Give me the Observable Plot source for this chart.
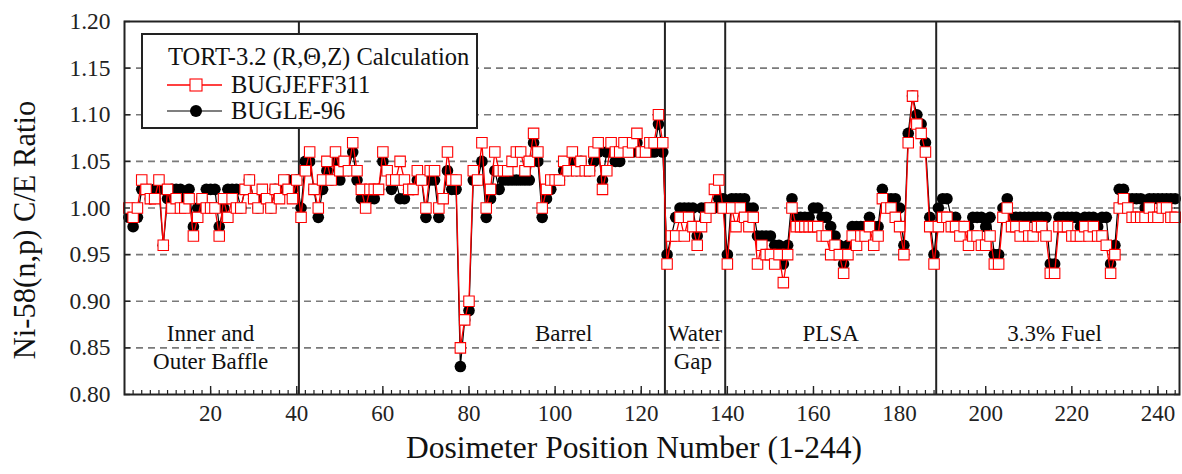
<!DOCTYPE html>
<html><head><meta charset="utf-8">
<script src="https://cdn.jsdelivr.net/npm/d3@7"></script>
<script src="https://cdn.jsdelivr.net/npm/@observablehq/plot@0.6"></script>
<style>
body{margin:0;background:#fff;}
#wrap{position:relative;width:1182px;height:474px;font-family:"Liberation Serif","Times New Roman",serif;}
#legend{position:absolute;left:0;top:0;pointer-events:none;}
</style></head><body><div id="wrap"></div>
<script>
// Dosimeter positions 1..244
const positions = d3.range(1, 245);

// TORT-3.2 with BUGJEFF311 (red open squares)
const bugjeff311 = [
  // Inner and Outer Baffle (1-40)
  1.00,0.99,1.00,1.03,1.02,1.01,1.01,1.03,0.96,1.02, 1.00,1.01,1.00,1.00,1.01,0.97,0.99,1.01,1.00,1.00,
  1.00,0.97,1.01,0.99,1.01,1.00,1.00,1.02,1.03,1.01, 1.00,1.02,1.01,1.00,1.02,1.01,1.03,1.02,1.01,1.03,
  // Barrel (41-125)
  0.99,1.04,1.06,1.02,1.00,1.03,1.05,1.03,1.06,1.04, 1.05,1.04,1.07,1.04,1.02,1.00,1.02,1.02,1.02,1.06,
  1.04,1.03,1.03,1.05,1.03,1.02,1.02,1.04,1.03,1.00, 1.04,1.04,1.00,1.01,1.06,1.03,1.03,0.85,0.88,0.90,
  1.04,1.03,1.07,1.00,1.02,1.06,1.04,1.04,1.04,1.05, 1.06,1.06,1.04,1.05,1.08,1.06,1.00,1.02,1.03,1.03,
  1.03,1.05,1.04,1.06,1.04,1.05,1.04,1.04,1.06,1.07, 1.02,1.04,1.07,1.06,1.06,1.07,1.06,1.07,1.08,1.06,
  1.06,1.07,1.07,1.10,1.07,
  // Water Gap (126-139)
  0.94,0.97,0.97,0.99,0.97,0.99,0.98,0.96,0.98,0.99,1.00,1.02,1.03,1.00,
  // PLSA (140-188)
  0.94,1.00,0.98,1.00,0.99,0.98,0.99,0.94,0.96,0.95, 0.95,0.94,0.95,0.92,0.95,1.00,0.98,0.98,0.98,0.98,
  0.98,0.98,0.97,0.97,0.95,0.96,0.95,0.93,0.95,0.97, 0.96,0.97,0.97,0.98,0.96,0.97,1.01,1.00,1.00,0.99,
  0.98,0.95,1.07,1.12,1.09,1.08,1.06,0.98,0.94,
  // 3.3% Fuel (189-244)
  0.98,0.99,0.99,0.98,0.98,0.97,0.98,0.96,0.97,0.97, 0.96,0.96,0.97,0.94,0.94,0.99,1.00,0.98,0.98,0.97,
  0.98,0.97,0.97,0.98,0.98,0.97,0.93,0.93,0.98,0.98, 0.98,0.97,0.97,0.97,0.98,0.97,0.98,0.97,0.97,0.96,
  0.93,0.95,1.00,1.01,1.00,0.99,0.99,0.99,0.99,1.00, 0.99,0.99,1.00,1.00,0.99,0.99
];

// TORT-3.2 with BUGLE-96 (black filled circles)
const bugle96 = [
  // Inner and Outer Baffle (1-40)
  0.99,0.98,0.99,1.02,1.02,1.01,1.02,1.02,0.96,1.01, 1.02,1.02,1.02,1.01,1.02,0.98,1.00,1.01,1.02,1.02,
  1.02,0.98,1.00,1.02,1.02,1.02,1.00,1.02,1.03,1.01, 1.00,1.01,1.01,1.00,1.02,1.02,1.02,1.03,1.02,1.03,
  // Barrel (41-125)
  1.00,1.05,1.05,1.02,0.99,1.02,1.04,1.03,1.05,1.03, 1.04,1.04,1.06,1.03,1.01,1.01,1.01,1.01,1.02,1.05,
  1.04,1.02,1.03,1.01,1.01,1.02,1.02,1.03,1.03,0.99, 1.03,1.03,0.99,1.01,1.04,1.02,1.02,0.83,0.88,0.89,
  1.03,1.03,1.05,0.99,1.01,1.04,1.02,1.03,1.03,1.03, 1.03,1.03,1.03,1.03,1.07,1.05,0.99,1.01,1.02,1.03,
  1.03,1.04,1.04,1.05,1.04,1.05,1.04,1.04,1.05,1.06, 1.03,1.06,1.06,1.05,1.05,1.06,1.06,1.06,1.07,1.06,
  1.06,1.06,1.06,1.09,1.06,
  // Water Gap (126-139)
  0.95,0.97,0.99,1.00,1.00,1.00,1.00,0.97,1.00,1.00,1.00,1.00,1.01,1.01,
  // PLSA (140-188)
  0.95,1.01,1.01,1.01,1.01,1.00,1.00,0.97,0.97,0.97, 0.97,0.96,0.96,0.94,0.96,1.01,0.99,0.99,0.99,0.99,
  1.00,1.00,0.99,0.99,0.98,0.97,0.96,0.94,0.96,0.98, 0.98,0.98,0.98,0.99,0.98,0.98,1.02,1.01,1.01,1.01,
  1.00,0.96,1.08,1.12,1.10,1.09,1.07,0.99,0.95,
  // 3.3% Fuel (189-244)
  1.00,1.01,1.01,0.99,0.99,0.98,0.98,0.98,0.99,0.99, 0.99,0.98,0.99,0.95,0.95,1.00,1.01,0.99,0.99,0.99,
  0.99,0.99,0.99,0.99,0.99,0.99,0.94,0.94,0.99,0.99, 0.99,0.99,0.99,0.98,0.99,0.99,0.99,0.98,0.99,0.99,
  0.94,0.96,1.02,1.02,1.01,1.01,1.01,1.01,1.00,1.01, 1.01,1.01,1.01,1.01,1.01,1.01
];

// Axis ticks
const xMajorTicks = [20, 40, 60, 80, 100, 120, 140, 160, 180, 200, 220, 240];
const xMinorTicks = d3.range(2, 245, 2);
const yTicks = [0.80, 0.85, 0.90, 0.95, 1.00, 1.05, 1.10, 1.15, 1.20];
const yGrid = [0.85, 0.90, 0.95, 1.00, 1.05, 1.10, 1.15];

// Region boundaries and labels
const regionBounds = [40.5, 125.5, 139.5, 188.5];
const regionText = ["Inner and", "Outer Baffle", "Barrel", "Water", "Gap", "PLSA", "3.3% Fuel"];
const regionTextX = [20, 20, 102, 132.5, 132, 164, 216];
const regionTextY = [0.865, 0.835, 0.865, 0.865, 0.835, 0.865, 0.865];

const seriesNames = ["BUGJEFF311", "BUGLE-96"];
const legendTitle = "TORT-3.2 (R,\u0398,Z) Calculation";

const jeff = positions.map((p, i) => ({p, v: bugjeff311[i]}));
const bugle = positions.map((p, i) => ({p, v: bugle96[i]}));
const labels = regionText.map((t, i) => ({t, x: regionTextX[i], y: regionTextY[i]}));

const font = '"Liberation Serif","Times New Roman",serif';

const chart = Plot.plot({
  width: 1182,
  height: 474,
  marginLeft: 124,
  marginRight: 3,
  marginTop: 21,
  marginBottom: 80,
  style: {fontFamily: font, fontSize: "23px", color: "#222", background: "#fff"},
  x: {domain: [0, 245]},
  y: {domain: [0.8, 1.2]},
  marks: [
    Plot.ruleY(yGrid, {stroke: "#7a7a7a", strokeWidth: 1.6, strokeDasharray: "7,5"}),
    Plot.ruleX(regionBounds, {stroke: "#222", strokeWidth: 2}),
    Plot.text(labels, {x: "x", y: "y", text: "t", fontSize: 23, fill: "#111"}),
    Plot.line(bugle, {x: "p", y: "v", stroke: "#000", strokeWidth: 1.2}),
    Plot.dot(bugle, {x: "p", y: "v", r: 5.8, fill: "#000", stroke: "none"}),
    Plot.line(jeff, {x: "p", y: "v", stroke: "#ff0000", strokeWidth: 1.3}),
    Plot.dot(jeff, {x: "p", y: "v", symbol: "square", r: 5.9, fill: "#fff", stroke: "#ff0000", strokeWidth: 1.1}),
    // axes: labels
    Plot.axisX({ticks: xMajorTicks, tickSize: 0, tickPadding: 10, label: null, fontSize: 23}),
    Plot.axisY({ticks: yTicks, tickSize: 0, tickPadding: 14, tickFormat: d3.format(".2f"), label: null, fontSize: 23.5}),
    // inward ticks
    Plot.axisX({ticks: xMinorTicks, tickSize: 4, dy: -4, text: null, label: null, strokeWidth: 1.2}),
    Plot.axisX({ticks: xMajorTicks, tickSize: 8, dy: -8, text: null, label: null, strokeWidth: 1.4}),
    Plot.axisY({anchor: "left", ticks: yTicks, tickSize: 6, dx: 6, text: null, label: null, strokeWidth: 1.4}),
    Plot.axisY({anchor: "right", ticks: yTicks, tickSize: 6, dx: -6, text: null, label: null, strokeWidth: 1.4}),
    Plot.frame({stroke: "#222", strokeWidth: 2}),
    // axis titles
    Plot.text(["Dosimeter Position Number (1-244)"], {frameAnchor: "bottom", textAnchor: "middle", dx: -18, dy: 63, fontSize: 31.5, fill: "#111"}),
    Plot.text(["Ni-58(n,p) C/E Ratio"], {frameAnchor: "left", textAnchor: "middle", rotate: -90, dx: -99, dy: 22, fontSize: 30.5, fill: "#111"})
  ]
});

const wrap = document.getElementById("wrap");
wrap.appendChild(chart);

// Legend overlay (inside plot area, top-left)
const lg = d3.select(wrap).append("svg").attr("id", "legend").attr("width", 1182).attr("height", 474)
  .style("font-family", font);
lg.append("rect").attr("x", 142).attr("y", 34).attr("width", 335).attr("height", 94)
  .attr("fill", "#fff").attr("stroke", "#222").attr("stroke-width", 2);
lg.append("text").attr("x", 168).attr("y", 65).attr("font-size", 24.5).attr("fill", "#111").text(legendTitle);
// BUGJEFF311
lg.append("line").attr("x1", 167).attr("x2", 222).attr("y1", 85).attr("y2", 85).attr("stroke", "#ff0000").attr("stroke-width", 1.3);
lg.append("rect").attr("x", 190).attr("y", 79).attr("width", 12).attr("height", 12).attr("fill", "#fff").attr("stroke", "#ff0000").attr("stroke-width", 1.1);
lg.append("text").attr("x", 231).attr("y", 93).attr("font-size", 24.5).attr("fill", "#111").text(seriesNames[0]);
// BUGLE-96
lg.append("line").attr("x1", 167).attr("x2", 222).attr("y1", 111).attr("y2", 111).attr("stroke", "#000").attr("stroke-width", 1.2);
lg.append("circle").attr("cx", 196).attr("cy", 111).attr("r", 6).attr("fill", "#000");
lg.append("text").attr("x", 231).attr("y", 119).attr("font-size", 24.5).attr("fill", "#111").text(seriesNames[1]);
</script>
</body></html>
